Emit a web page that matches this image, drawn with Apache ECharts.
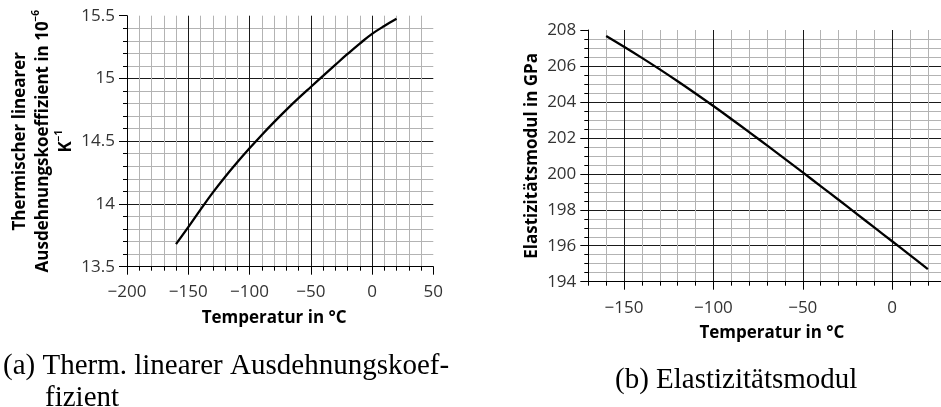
<!DOCTYPE html>
<html>
<head>
<meta charset="utf-8">
<script src="https://cdn.jsdelivr.net/npm/echarts@6/dist/echarts.min.js"></script>
<style>html,body{margin:0;padding:0;background:#fff;}#c{width:941px;height:407px;}</style>
</head>
<body>
<div id="c"></div>
<script>
// ---- data ----
const tempA = [-160,-150,-140,-130,-120,-110,-100,-90,-80,-70,-60,-50,-40,-30,-20,-10,0,10,20];
const alphaVals = [13.68,13.815,13.955,14.09,14.215,14.332,14.443,14.55,14.652,14.75,14.843,14.932,15.02,15.108,15.195,15.278,15.355,15.418,15.475];
const tempB = [-160,-150,-140,-130,-120,-110,-100,-90,-80,-70,-60,-50,-40,-30,-20,-10,0,10,20];
const eVals = [207.67,207.07,206.45,205.81,205.15,204.47,203.77,203.05,202.32,201.58,200.83,200.08,199.32,198.56,197.79,197.02,196.25,195.48,194.70];
const majorTicksB = [-150,-100,-50,0];
const captionA = ['(a) Therm. linearer Ausdehnungskoef-', 'fizient'];
const captionB = '(b) Elastizitätsmodul';

const FONT = 'Open Sans';
const fmtMinus = v => (v < 0 ? '\u2212' + Math.abs(v) : String(v));
const GRID_MINOR = '#b3b3b3';
const GRID_MAJOR = '#1a1a1a';
const labelStyle = {fontFamily: FONT, fontSize: 17, color: '#333'};
const nameStyle = {fontFamily: FONT, fontSize: 17, fontWeight: 'bold', color: '#000'};
const CAP_FONT = '29px "Liberation Serif"';

const chart = echarts.init(document.getElementById('c'), null, {renderer: 'canvas'});
chart.setOption({
  animation: false,
  backgroundColor: '#fff',
  grid: [
    {left: 127, top: 15.7, width: 306.3, height: 251, outerBoundsMode: 'none', containLabel: false},
    {left: 588.3, top: 30, width: 375.3, height: 251.7, outerBoundsMode: 'none', containLabel: false}
  ],
  xAxis: [
    {
      gridIndex: 0, type: 'value', min: -200, max: 50, interval: 50,
      name: 'Temperatur in °C', nameLocation: 'middle', nameGap: 43,
      nameTextStyle: Object.assign({padding: [0, 12, 0, 0]}, nameStyle),
      axisLine: {show: true, onZero: false, lineStyle: {color: '#000', width: 1}},
      axisTick: {show: true, length: 8, lineStyle: {color: '#000'}},
      minorTick: {show: true, splitNumber: 5, length: 4, lineStyle: {color: '#000'}},
      axisLabel: Object.assign({margin: 16.5, formatter: fmtMinus}, labelStyle),
      splitLine: {show: true, showMinLine: false, showMaxLine: false, lineStyle: {color: GRID_MAJOR, width: 1}},
      minorSplitLine: {show: true, lineStyle: {color: GRID_MINOR, width: 1}}
    },
    {
      gridIndex: 1, type: 'value', min: -170, max: 40, interval: 10, position: 'bottom',
      name: 'Temperatur in °C', nameLocation: 'middle', nameGap: 42.5,
      nameTextStyle: Object.assign({padding: [0, 8, 0, 0]}, nameStyle),
      axisLine: {show: true, onZero: false, lineStyle: {color: '#000', width: 1}},
      axisTick: {show: true, length: 4, lineStyle: {color: '#000'}},
      axisLabel: Object.assign({margin: 17.5, formatter: v => (v % 50 === 0 ? fmtMinus(v) : '')}, labelStyle),
      splitLine: {show: true, showMinLine: true, showMaxLine: false,
        lineStyle: {color: [GRID_MINOR, GRID_MINOR, GRID_MAJOR, GRID_MINOR, GRID_MINOR], width: 1}}
    },
    {
      gridIndex: 1, type: 'value', min: -170, max: 40, interval: 10, position: 'bottom', offset: 0,
      axisLine: {show: false},
      axisTick: {show: true, length: 8, customValues: majorTicksB, lineStyle: {color: '#000'}},
      axisLabel: {show: false},
      splitLine: {show: false}
    }
  ],
  yAxis: [
    {
      gridIndex: 0, type: 'value', min: 13.5, max: 15.5, interval: 0.5,
      name: 'Thermischer linearer\nAusdehnungskoeffizient in 10{sup|\u22126}\nK{sup|\u22121}',
      nameLocation: 'middle', nameGap: 45,
      nameTextStyle: Object.assign({lineHeight: 23, rich: {sup: {fontFamily: FONT, fontSize: 10, fontWeight: 'bold', color: '#000', verticalAlign: 'top', lineHeight: 23}}}, nameStyle),
      axisLine: {show: true, onZero: false, lineStyle: {color: '#000', width: 1}},
      axisTick: {show: true, length: 8, lineStyle: {color: '#000'}},
      minorTick: {show: true, splitNumber: 5, length: 4, lineStyle: {color: '#000'}},
      axisLabel: Object.assign({margin: 12}, labelStyle),
      splitLine: {show: true, showMinLine: false, showMaxLine: false, lineStyle: {color: GRID_MAJOR, width: 1}},
      minorSplitLine: {show: true, lineStyle: {color: GRID_MINOR, width: 1}}
    },
    {
      gridIndex: 1, type: 'value', min: 194, max: 208, interval: 2,
      name: 'Elastizitätsmodul in GPa', nameLocation: 'middle', nameGap: 48, nameTextStyle: nameStyle,
      axisLine: {show: true, onZero: false, lineStyle: {color: '#000', width: 1}},
      axisTick: {show: true, length: 8, lineStyle: {color: '#000'}},
      minorTick: {show: true, splitNumber: 4, length: 4, lineStyle: {color: '#000'}},
      axisLabel: Object.assign({margin: 12}, labelStyle),
      splitLine: {show: true, showMinLine: false, showMaxLine: false, lineStyle: {color: GRID_MAJOR, width: 1}},
      minorSplitLine: {show: true, lineStyle: {color: GRID_MINOR, width: 1}}
    }
  ],
  series: [
    {
      type: 'line', xAxisIndex: 0, yAxisIndex: 0, smooth: 0.4, symbol: 'none',
      lineStyle: {color: '#000', width: 2.3},
      data: tempA.map((t, i) => [t, alphaVals[i]])
    },
    {
      type: 'line', xAxisIndex: 1, yAxisIndex: 1, smooth: 0.4, symbol: 'none',
      lineStyle: {color: '#000', width: 2.3},
      data: tempB.map((t, i) => [t, eVals[i]])
    }
  ],
  graphic: [
    {type: 'text', left: 3, top: 352, style: {text: captionA[0], font: CAP_FONT, fill: '#000'}},
    {type: 'text', left: 45, top: 384, style: {text: captionA[1], font: CAP_FONT, fill: '#000'}},
    {type: 'text', left: 615, top: 366, style: {text: captionB, font: CAP_FONT, fill: '#000'}}
  ]
});
</script>
</body>
</html>
